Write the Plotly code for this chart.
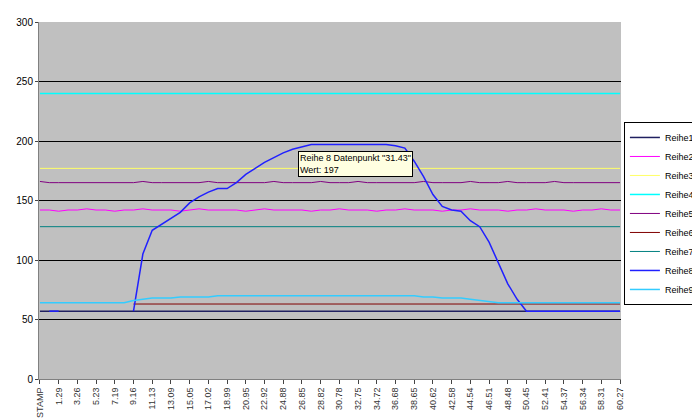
import plotly.graph_objects as go

categories = ["STAMP", "0.31", "1.29", "2.28", "3.26", "4.24", "5.23", "6.21", "7.19", "8.18",
              "9.16", "10.14", "11.13", "12.11", "13.09", "14.07", "15.05", "16.04", "17.02", "18.01",
              "18.99", "19.97", "20.95", "21.94", "22.92", "23.90", "24.88", "25.87", "26.85", "27.84",
              "28.82", "29.80", "30.78", "31.77", "32.75", "33.73", "34.72", "35.70", "36.68", "37.66",
              "38.65", "39.63", "40.62", "41.60", "42.58", "43.56", "44.54", "45.53", "46.51", "47.50",
              "48.48", "49.46", "50.45", "51.43", "52.41", "53.39", "54.37", "55.36", "56.34", "57.32",
              "58.31", "59.29", "60.27"]
n = len(categories)

reihe1 = [57] * n
reihe2 = [142, 142, 141, 142, 142, 143, 142, 142, 141, 142, 142, 143, 142, 142, 142, 141, 142, 143, 142, 142,
          142, 142, 141, 142, 143, 142, 142, 142, 142, 141, 142, 142, 143, 142, 142, 142, 141, 142, 142, 143,
          142, 142, 142, 141, 142, 142, 143, 142, 142, 142, 141, 142, 142, 143, 142, 142, 142, 141, 142, 142,
          143, 142, 142]
reihe3 = [177] * n
reihe4 = [240] * n
reihe5 = [166, 165, 165, 165, 165, 165, 165, 165, 165, 165, 165, 166, 165, 165, 165, 165, 165, 165, 166, 165,
          165, 165, 165, 165, 165, 166, 165, 165, 165, 165, 166, 165, 165, 165, 166, 165, 165, 165, 165, 165,
          165, 166, 165, 165, 165, 165, 166, 165, 165, 165, 166, 165, 165, 165, 165, 166, 165, 165, 165, 165,
          165, 165, 165]
reihe6 = [None] * 10 + [63] * (n - 10)
reihe7 = [128] * n
reihe8 = [None, 57, 57, None, 57, None, 57, None, None, None,
          57, 105, 125, 130, 135, 140, 148, 153, 157, 160,
          160, 165, 172, 177, 182, 186, 190, 193, 195, 197,
          197, 197, 197, 197, 197, 197, 197, 197, 196, 194,
          183, 170, 155, 145, 142, 141, 133, 128, 115, 97,
          80, 67, 57] + [57] * (n - 53)
reihe9 = [64] * 10 + [66, 67, 68, 68, 68, 69, 69, 69, 69, 70,
                      70, 70, 70, 70, 70, 70, 70, 70, 70, 70,
                      70, 70, 70, 70, 70, 70, 70, 70, 70, 70,
                      70, 69, 69, 68, 68, 68, 67, 66, 65, 64] + [64] * (n - 50)

series = [
    ("Reihe1", reihe1, "#202060", 1.5),
    ("Reihe2", reihe2, "#ff00ff", 1),
    ("Reihe3", reihe3, "#ffff66", 1),
    ("Reihe4", reihe4, "#00ffff", 1.5),
    ("Reihe5", reihe5, "#800080", 1),
    ("Reihe6", reihe6, "#800000", 1),
    ("Reihe7", reihe7, "#008080", 1),
    ("Reihe8", reihe8, "#2020ff", 1.5),
    ("Reihe9", reihe9, "#33ccff", 1.5),
]

fig = go.Figure()
for name, vals, color, w in series:
    fig.add_trace(go.Scatter(x=categories, y=vals, name=name, mode="lines",
                             line=dict(color=color, width=w), connectgaps=False))

fig.add_annotation(x="33.73", y=192, xref="x", yref="y", showarrow=False,
                   text='Reihe 8 Datenpunkt "31.43"<br>Wert: 197', align="left",
                   xanchor="center", yanchor="top", bgcolor="#ffffe1", bordercolor="black",
                   borderwidth=1, font=dict(size=9, color="black", family="Liberation Sans"))

fig.update_layout(
    width=700, height=418,
    margin=dict(l=30, r=80, t=8, b=40),
    paper_bgcolor="white", plot_bgcolor="#c0c0c0",
    font=dict(family="Liberation Sans", size=10, color="black"),
    showlegend=True,
    legend=dict(x=1.005, y=0.72, xanchor="left", yanchor="top", bordercolor="black",
                borderwidth=1, bgcolor="white", font=dict(size=9), tracegroupgap=0,
                itemwidth=30),
    xaxis=dict(type="category", tickmode="array", tickvals=categories[::2],
               ticktext=categories[::2], tickangle=-90, ticks="outside", ticklen=4,
               showgrid=False, showline=True, linecolor="#808080",
               range=[-0.1, n - 0.9], tickfont=dict(size=9, color="#333")),
    yaxis=dict(range=[0, 300], dtick=50, gridcolor="black", gridwidth=1,
               showline=True, linecolor="#808080", zeroline=False,
               ticks="outside", ticklen=3, tickfont=dict(size=10)),
)

fig.write_html("out.html")
